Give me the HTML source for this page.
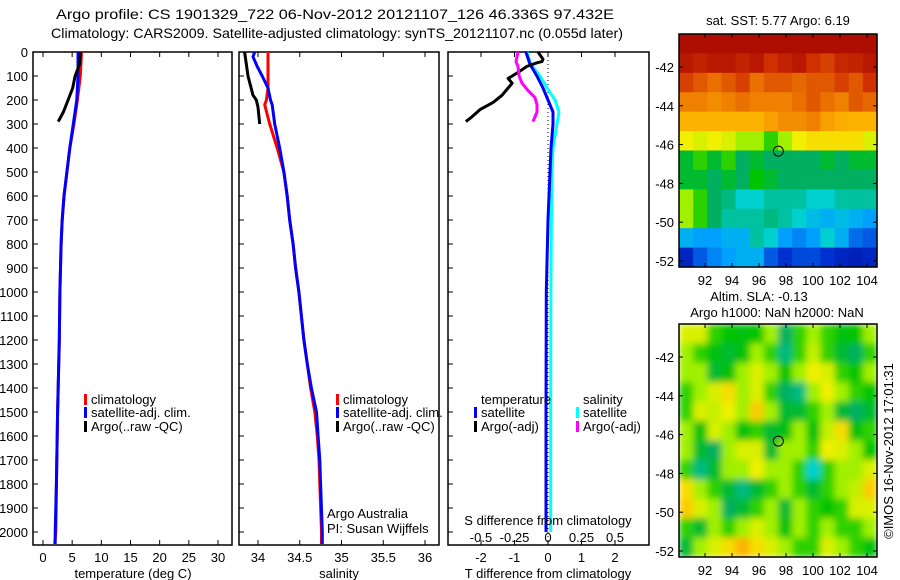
<!DOCTYPE html>
<html><head><meta charset="utf-8"><style>
body{margin:0;background:#fff;width:900px;height:580px;overflow:hidden}
svg{display:block;font-family:"Liberation Sans",sans-serif}
text{font-size:13px;fill:#000}
</style></head><body>
<svg id="c" width="900" height="580">
<defs>
<filter id="blur" x="0" y="0" width="1" height="1"><feGaussianBlur stdDeviation="3.5" edgeMode="duplicate"/></filter>
<clipPath id="slaclip"><rect x="679" y="324" width="198" height="233"/></clipPath>
</defs>
</svg>
<script>
// ---- profile data ----
const tDepth=[0,50,100,200,300,400,500,600,700,800,1000,1200,1500,1800,2000,2050];
const tClim=[6.6,6.5,6.4,5.9,5.3,4.6,4.1,3.6,3.3,3.1,2.9,2.8,2.5,2.3,2.2,2.0];
const tSat=[6.0,6.0,6.0,5.8,5.2,4.6,4.1,3.6,3.3,3.1,2.9,2.8,2.5,2.3,2.1,2.1];
const aDepth=[0,50,100,150,200,250,290];
const tArgo=[6.4,6.3,5.5,5.1,4.3,3.5,2.6];
const sDepth=[0,20,60,100,150,200,220,300,400,500,600,700,800,900,1000,1100,1200,1300,1400,1500,1600,1700,1800,2000,2050];
const sClim=[34.12,34.12,34.12,34.12,34.12,34.1,34.08,34.14,34.23,34.31,34.35,34.38,34.42,34.45,34.49,34.52,34.55,34.59,34.63,34.68,34.71,34.73,34.74,34.76,34.76];
const sSat=[33.96,33.94,33.99,34.05,34.12,34.15,34.17,34.2,34.26,34.31,34.35,34.38,34.42,34.45,34.49,34.52,34.55,34.59,34.64,34.7,34.72,34.74,34.75,34.77,34.77];
const sArgoDepth=[0,100,180,200,230,300];
const sArgo=[33.84,33.88,33.94,33.98,34.0,34.02];
const dDepth=[0,50,100,150,200,250,300,400,500,700,1000,1500,2000];
const dTsat=[-0.66,-0.54,-0.33,-0.15,0,0.15,0.15,0.09,0.06,0.0,-0.05,-0.06,-0.06];
const dSsat=[-0.157,-0.13,-0.06,-0.007,0.052,0.082,0.067,0.037,0.03,0.025,0.022,0.02,0.02];
const dArgoDepth=[0,30,40,45,60,80,100,110,130,150,180,210,240,270,290];
const dTargo=[-0.3,-0.15,-0.18,-0.33,-0.63,-0.84,-1.07,-1.19,-1.07,-1.19,-1.37,-1.64,-2.03,-2.27,-2.45];
const dSArgoDepth=[0,40,60,100,130,160,190,220,250,290];
const dSargo=[-0.224,-0.239,-0.224,-0.216,-0.194,-0.149,-0.097,-0.082,-0.082,-0.112];
const depthTicks=[0,100,200,300,400,500,600,700,800,900,1000,1100,1200,1300,1400,1500,1600,1700,1800,1900,2000];
const tTicks=[0,5,10,15,20,25,30];
const sTicks=[34,34.5,35,35.5,36];
const sTickLabels=["34","34.5","35","35.5","36"];
const dTTicks=[-2,-1,0,1,2];
const dSTicks=[-0.5,-0.25,0,0.25,0.5];
const dSTickLabels=["-0.5","-0.25","0","0.25","0.5"];
// ---- map data (0..1 colour scale) ----
const sstGrid=[
[.97,.97,.97,.97,.97,.97,.97,.97,.97,.97,.97,.97,.97,.97],
[.95,.93,.95,.95,.93,.95,.9,.93,.95,.9,.88,.92,.93,.95],
[.88,.85,.82,.85,.88,.82,.85,.85,.83,.85,.85,.88,.85,.9],
[.8,.8,.78,.8,.82,.8,.8,.8,.82,.85,.82,.8,.85,.83],
[.72,.72,.72,.72,.72,.72,.75,.78,.78,.8,.75,.73,.72,.72],
[.62,.6,.62,.6,.55,.55,.5,.55,.62,.65,.65,.65,.65,.6],
[.45,.5,.45,.5,.42,.45,.42,.42,.42,.42,.45,.42,.45,.45],
[.45,.45,.42,.45,.42,.48,.45,.42,.42,.42,.42,.42,.42,.42],
[.55,.5,.42,.4,.35,.35,.38,.38,.38,.35,.35,.38,.38,.38],
[.55,.5,.42,.38,.38,.38,.4,.38,.35,.32,.3,.32,.3,.28],
[.3,.28,.28,.3,.3,.38,.35,.28,.25,.28,.35,.3,.22,.2],
[.12,.2,.25,.28,.3,.3,.2,.15,.18,.18,.15,.12,.1,.12]];
const slaGrid=[
[.6,.6,.5,.48,.47,.48,.55,.42,.5,.55,.5,.47,.48,.55],
[.55,.5,.47,.45,.47,.55,.5,.4,.5,.58,.5,.45,.42,.5],
[.55,.55,.45,.47,.55,.6,.55,.48,.55,.62,.6,.5,.48,.55],
[.5,.55,.6,.65,.55,.6,.5,.42,.4,.55,.62,.55,.5,.48],
[.5,.6,.58,.62,.55,.68,.55,.45,.45,.5,.55,.45,.42,.45],
[.55,.47,.6,.55,.47,.5,.45,.47,.55,.47,.58,.65,.47,.5],
[.55,.45,.42,.55,.6,.6,.45,.55,.55,.5,.62,.6,.55,.48],
[.5,.4,.45,.55,.55,.62,.55,.55,.5,.35,.5,.55,.55,.6],
[.65,.55,.5,.45,.4,.45,.5,.55,.5,.45,.5,.55,.58,.68],
[.68,.6,.55,.42,.45,.5,.55,.45,.55,.5,.48,.5,.6,.6],
[.5,.45,.55,.5,.55,.6,.55,.47,.55,.5,.55,.5,.5,.55],
[.45,.55,.6,.65,.72,.65,.6,.55,.5,.5,.6,.55,.5,.47]];
const latTicks=[-42,-44,-46,-48,-50,-52];
const lonTicks=[92,94,96,98,100,102,104];
const argoLon=97.432, argoLat=-46.336;

const NS="http://www.w3.org/2000/svg";
const svg=document.getElementById('c');
function mk(tag,at,parent){const e=document.createElementNS(NS,tag);for(const k in at)e.setAttribute(k,at[k]);(parent||svg).appendChild(e);return e;}
function txt(x,y,s,anchor,size){const e=mk('text',{x:x,y:y,'text-anchor':anchor||'start'});if(size)e.style.fontSize=size+'px';e.textContent=s;return e;}

const yTop=52,yBot=545;
const yD=d=>52+d*0.24;
const xT=t=>43+t*5.833;
const xS=s=>258+(s-34)*83.5;
const xDT=v=>548+v*33.5;
const xDS=v=>548+v*134;

let e;
e=txt(56,19,"Argo profile: CS 1901329_722 06-Nov-2012 20121107_126 46.336S 97.432E","start",14);
e.setAttribute('textLength','558');e.setAttribute('lengthAdjust','spacingAndGlyphs');

e=txt(51,38,"Climatology: CARS2009. Satellite-adjusted climatology: synTS_20121107.nc (0.055d later)","start",14);
e.setAttribute('textLength','572');e.setAttribute('lengthAdjust','spacingAndGlyphs');


const panels=[{x0:33,x1:232,name:'temperature-panel'},{x0:239,x1:439,name:'salinity-panel'},{x0:448,x1:649,name:'difference-panel'}];
panels.forEach(p=>{
  const g=mk('g',{});
  
  
  p.g=g;
  mk('rect',{x:p.x0,y:yTop,width:p.x1-p.x0,height:yBot-yTop,fill:'none',stroke:'#000','stroke-width':1.5},g);
  depthTicks.forEach(d=>{mk('line',{x1:p.x0,x2:p.x0+5,y1:yD(d),y2:yD(d),stroke:'#000'},g);});
});
depthTicks.forEach(d=>{const t=txt(28,yD(d)+5,String(d),'end');
});
function xticks(g,vals,labels,fx,yl){vals.forEach((v,i)=>{const x=fx(v);
 mk('line',{x1:x,x2:x,y1:yBot,y2:yBot-5,stroke:'#000'},g);mk('line',{x1:x,x2:x,y1:yTop,y2:yTop+5,stroke:'#000'},g);
 const t=txt(x,yl,labels[i],'middle');});}
xticks(panels[0].g,tTicks,tTicks.map(String),xT,562);
xticks(panels[1].g,sTicks,sTickLabels,xS,562);
xticks(panels[2].g,dTTicks,dTTicks.map(String),xDT,562);
dSTicks.forEach((v,i)=>{const t=txt(xDS(v),542,dSTickLabels[i],'middle');});
e=txt(133,578,"temperature (deg C)","middle");
e=txt(339,578,"salinity","middle");
e=txt(548,578,"T difference from climatology","middle");
e=txt(548,525,"S difference from climatology","middle");
mk('line',{x1:548,x2:548,y1:yTop,y2:yBot,stroke:'#000','stroke-dasharray':'1,3'},panels[2].g);

function line(g,xs,ds,fx,color,name){const pts=xs.map((v,i)=>fx(v).toFixed(1)+','+yD(ds[i]).toFixed(1)).join(' ');
 const l=mk('polyline',{points:pts,fill:'none',stroke:color,'stroke-width':3,'stroke-linejoin':'round'},g);
 }
line(panels[0].g,tClim,tDepth,xT,'#ff0000','temp-climatology-line');
line(panels[0].g,tSat,tDepth,xT,'#0000ff','temp-satellite-line');
line(panels[0].g,tArgo,aDepth,xT,'#000','temp-argo-line');
line(panels[1].g,sClim,sDepth,xS,'#ff0000','sal-climatology-line');
line(panels[1].g,sSat,sDepth,xS,'#0000ff','sal-satellite-line');
line(panels[1].g,sArgo,sArgoDepth,xS,'#000','sal-argo-line');
line(panels[2].g,dSsat,dDepth,xDS,'#00ffff','s-diff-satellite-line');
line(panels[2].g,dTsat,dDepth,xDT,'#0000ff','t-diff-satellite-line');
line(panels[2].g,dTargo,dArgoDepth,xDT,'#000','t-diff-argo-line');
line(panels[2].g,dSargo,dSArgoDepth,xDS,'#ff00ff','s-diff-argo-line');

function legend(x,y,color,label){const g=mk('g',{});
 
 mk('rect',{x:x-7,y:y-10,width:3,height:11,fill:color},g);const t=mk('text',{x:x,y:y},g);t.textContent=label;}
legend(91,404,'#ff0000','climatology');legend(91,417,'#0000ff','satellite-adj. clim.');legend(91,431,'#000','Argo(..raw -QC)');
legend(343,404,'#ff0000','climatology');legend(343,417,'#0000ff','satellite-adj. clim.');legend(343,431,'#000','Argo(..raw -QC)');
e=txt(481,404,'temperature');
e=txt(583,404,'salinity');
legend(481,417,'#0000ff','satellite');legend(481,431,'#000','Argo(-adj)');
legend(583,417,'#00ffff','satellite');legend(583,431,'#ff00ff','Argo(-adj)');
e=txt(327,518,'Argo Australia');
e=txt(327,533,'PI: Susan Wijffels');

const stops=[[0,[0,0,138]],[.15,[0,48,208]],[.28,[0,160,255]],[.35,[0,208,208]],[.42,[0,176,96]],[.48,[0,196,0]],[.55,[160,240,0]],[.62,[240,240,0]],[.7,[255,192,0]],[.8,[240,128,0]],[.9,[208,48,0]],[1,[160,0,0]]];
function cmap(v){for(let i=1;i<stops.length;i++){if(v<=stops[i][0]){const a=stops[i-1],b=stops[i],f=(v-a[0])/(b[0]-a[0]);
 return 'rgb('+a[1].map((c,k)=>Math.round(c+(b[1][k]-c)*f)).join(',')+')';}}return 'rgb(160,0,0)';}
function drawMap(grid,top,name,smooth){
 const x0=679,x1=877,y1=top+233;
 const lonX=l=>705+(l-92)*13.5, latY=l=>top+33+(-42-l)*19.4;
 const g=mk('g',{});
 const outer=smooth?mk('g',{'clip-path':'url(#slaclip)'},g):g;
 const cg=mk('g',smooth?{filter:'url(#blur)'}:{},outer);
 const rows=grid.length,cols=grid[0].length,cw=(x1-x0)/cols,ch=(y1-top)/rows;
 grid.forEach((r,i)=>r.forEach((v,j)=>{const c=mk('rect',{x:(x0+j*cw).toFixed(2),y:(top+i*ch).toFixed(2),width:(cw+0.6).toFixed(2),height:(ch+0.6).toFixed(2),fill:cmap(v)},cg);
  }));
 mk('rect',{x:x0,y:top,width:x1-x0,height:y1-top,fill:'none',stroke:'#000','stroke-width':1.5},g);
 latTicks.forEach(l=>{const y=latY(l);mk('line',{x1:x0,x2:x0+4,y1:y,y2:y,stroke:'#000'},g);mk('line',{x1:x1,x2:x1-4,y1:y,y2:y,stroke:'#000'},g);
  const t=txt(674,y+5,String(l),'end');});
 lonTicks.forEach(l=>{const x=lonX(l);mk('line',{x1:x,x2:x,y1:y1,y2:y1-4,stroke:'#000'},g);mk('line',{x1:x,x2:x,y1:top,y2:top+4,stroke:'#000'},g);
  const t=txt(x,y1+18,String(l),'middle');});
 const m=mk('circle',{cx:lonX(argoLon),cy:latY(argoLat),r:5,fill:'none',stroke:'#000','stroke-width':1},g);
 
}
drawMap(sstGrid,34,'sst-map',false);
drawMap(slaGrid,324,'sla-map',true);
e=txt(778,25,'sat. SST: 5.77 Argo: 6.19','middle');
e=txt(759,301,'Altim. SLA: -0.13','middle');
e=txt(777,317,'Argo h1000: NaN h2000: NaN','middle');
e=txt(0,0,'©IMOS 16-Nov-2012 17:01:31','middle');e.setAttribute('transform','translate(893,451) rotate(-90)');

</script>
</body></html>
